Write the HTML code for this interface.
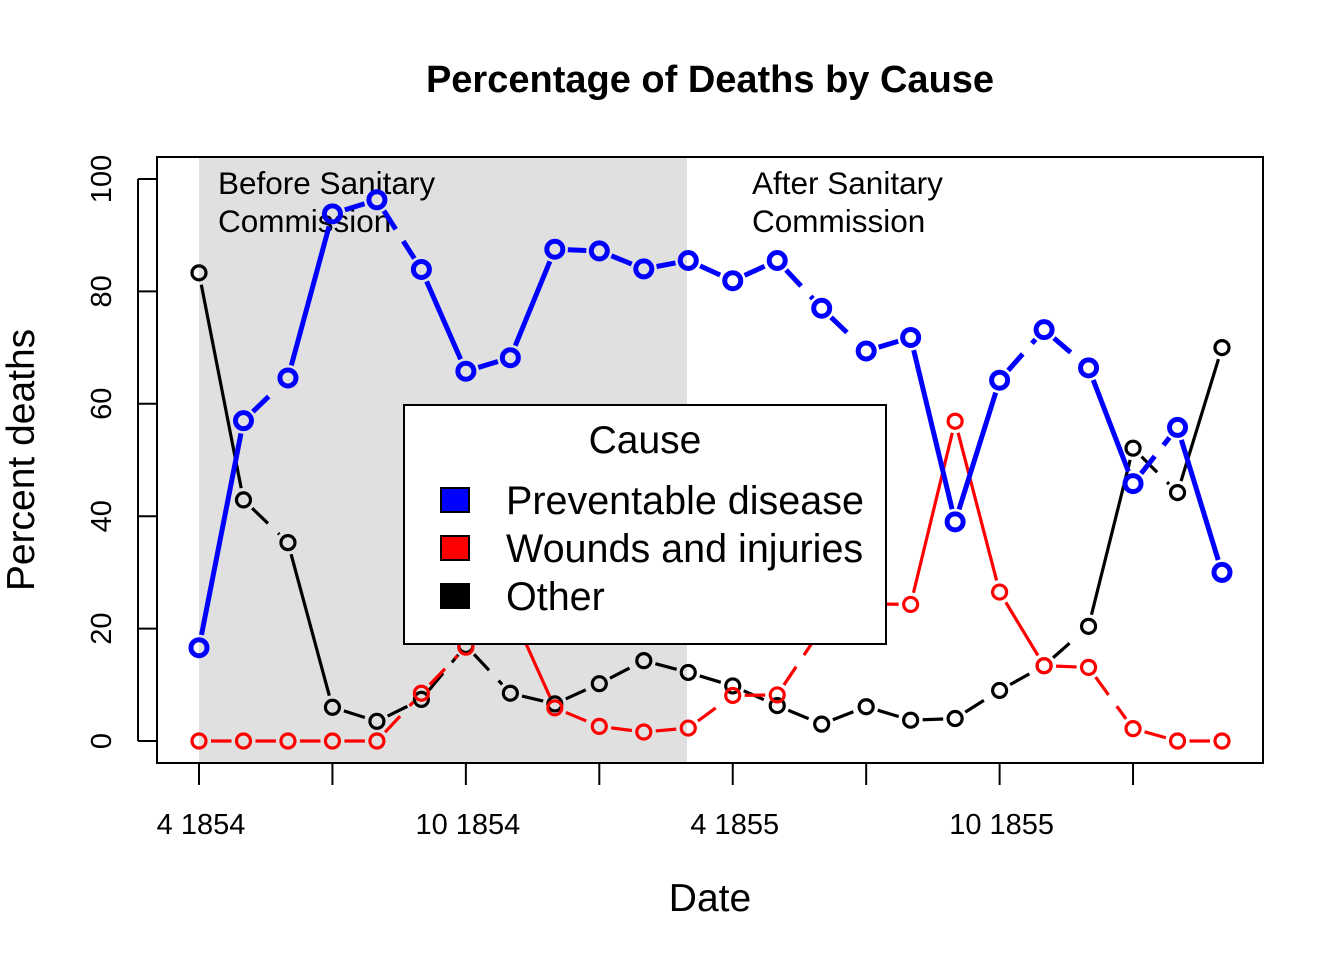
<!DOCTYPE html>
<html><head><meta charset="utf-8"><style>
body{margin:0;background:#fff}
svg{display:block;font-family:"Liberation Sans",Arial,sans-serif}
</style></head><body>
<svg id="chart" width="1344" height="960" viewBox="0 0 1344 960">
<rect x="199" y="157" width="488" height="606" fill="#e0e0e0"/>
<text x="218" y="194" font-size="31.5">Before Sanitary</text>
<text x="218" y="232" font-size="31.5">Commission</text>
<text x="752" y="194" font-size="31.5">After Sanitary</text>
<text x="752" y="232" font-size="31.5">Commission</text>
<g id="series"></g>
<rect x="157" y="157" width="1106" height="606" fill="none" stroke="#000" stroke-width="2"/>
<g id="axes"></g>
<text x="710" y="92" font-size="38" font-weight="bold" text-anchor="middle">Percentage of Deaths by Cause</text>
<text x="710" y="911" font-size="39" text-anchor="middle">Date</text>
<text transform="translate(34,460) rotate(-90)" font-size="39" text-anchor="middle">Percent deaths</text>
<g>
<rect x="404" y="405" width="482" height="239" fill="#fff" stroke="#000" stroke-width="2"/>
<text x="645" y="453" font-size="39" text-anchor="middle">Cause</text>
<rect x="441" y="488" width="28" height="24" fill="#0000ff" stroke="#000" stroke-width="2"/>
<text x="506" y="514" font-size="39.5">Preventable disease</text>
<rect x="441" y="536" width="28" height="24" fill="#ff0000" stroke="#000" stroke-width="2"/>
<text x="506" y="562" font-size="39.5">Wounds and injuries</text>
<rect x="441" y="584" width="28" height="24" fill="#000" stroke="#000" stroke-width="2"/>
<text x="506" y="610" font-size="39.5">Other</text>
</g>
</svg>
<script>
const months = ["4 1854","5 1854","6 1854","7 1854","8 1854","9 1854","10 1854","11 1854","12 1854","1 1855","2 1855","3 1855","4 1855","5 1855","6 1855","7 1855","8 1855","9 1855","10 1855","11 1855","12 1855","1 1856","2 1856","3 1856"];
const preventable = [16.6,57,64.6,93.8,96.3,83.9,65.8,68.2,87.5,87.2,84,85.5,81.9,85.5,77,69.4,71.8,39,64.2,73.2,66.4,45.8,55.8,30];
const wounds = [0,0,0,0,0,8.5,16.7,23.5,5.9,2.6,1.6,2.3,8.1,8.2,20,24.4,24.3,56.9,26.5,13.4,13.1,2.2,0,0];
const other = [83.3,42.9,35.3,6,3.5,7.4,17,8.5,6.6,10.2,14.3,12.2,9.8,6.3,3,6.1,3.7,4,9,13.4,20.4,52.1,44.2,70];
const yTicks = [0,20,40,60,80,100];
const xTickIdx = [0,3,6,9,12,15,18,21];
const xLabelIdx = [0,6,12,18];

const NS="http://www.w3.org/2000/svg";
const X=i=>199+i*(1222-199)/23;
const Y=v=>741-v*5.62;
function mk(tag,attrs,parent){const e=document.createElementNS(NS,tag);for(const k in attrs)e.setAttribute(k,attrs[k]);parent.appendChild(e);return e;}
const g=document.getElementById('series'), ax=document.getElementById('axes');

function drawSeries(vals,color,lw,r,name){
  const gap=r+5;
  for(let i=0;i<vals.length-1;i++){
    const x1=X(i),y1=Y(vals[i]),x2=X(i+1),y2=Y(vals[i+1]);
    const dx=x2-x1,dy=y2-y1,len=Math.hypot(dx,dy);
    if(len<=2*gap) continue;
    const ux=dx/len,uy=dy/len;
    const l=mk('line',{x1:x1+ux*gap,y1:y1+uy*gap,x2:x2-ux*gap,y2:y2-uy*gap,stroke:color,'stroke-width':lw},g);
    if(Math.abs(dy)<70) l.setAttribute('stroke-dasharray','22 14');
    
    
  }
  vals.forEach((v,i)=>{
    const c=mk('circle',{cx:X(i),cy:Y(v),r,fill:'none',stroke:color,'stroke-width':lw},g);
    
    
  });
}
drawSeries(other,'#000',3.2,7,'other');
drawSeries(wounds,'#ff0000',3.2,7,'wounds');
drawSeries(preventable,'#0000ff',5,8,'preventable');

const yl=mk('line',{x1:138,y1:Y(0),x2:138,y2:Y(100),stroke:'#000','stroke-width':2},ax);


yTicks.forEach(t=>{
  const tk=mk('line',{x1:138,y1:Y(t),x2:157,y2:Y(t),stroke:'#000','stroke-width':2},ax);
  
  
  const tx=mk('text',{transform:`translate(111,${Y(t)}) rotate(-90)`,'font-size':29,'text-anchor':'middle'},ax);
  tx.textContent=t;
  
  
});
const xl=mk('line',{x1:X(xTickIdx[0]),y1:763,x2:X(xTickIdx[xTickIdx.length-1]),y2:763,stroke:'#000','stroke-width':2},ax);


xTickIdx.forEach(i=>{
  const tk=mk('line',{x1:X(i),y1:763,x2:X(i),y2:785,stroke:'#000','stroke-width':2},ax);
  
  
});
xLabelIdx.forEach(i=>{
  const tx=mk('text',{x:X(i)+2,y:834,'font-size':29,'text-anchor':'middle'},ax);
  tx.textContent=months[i];
  
  
});
</script>
</body></html>
